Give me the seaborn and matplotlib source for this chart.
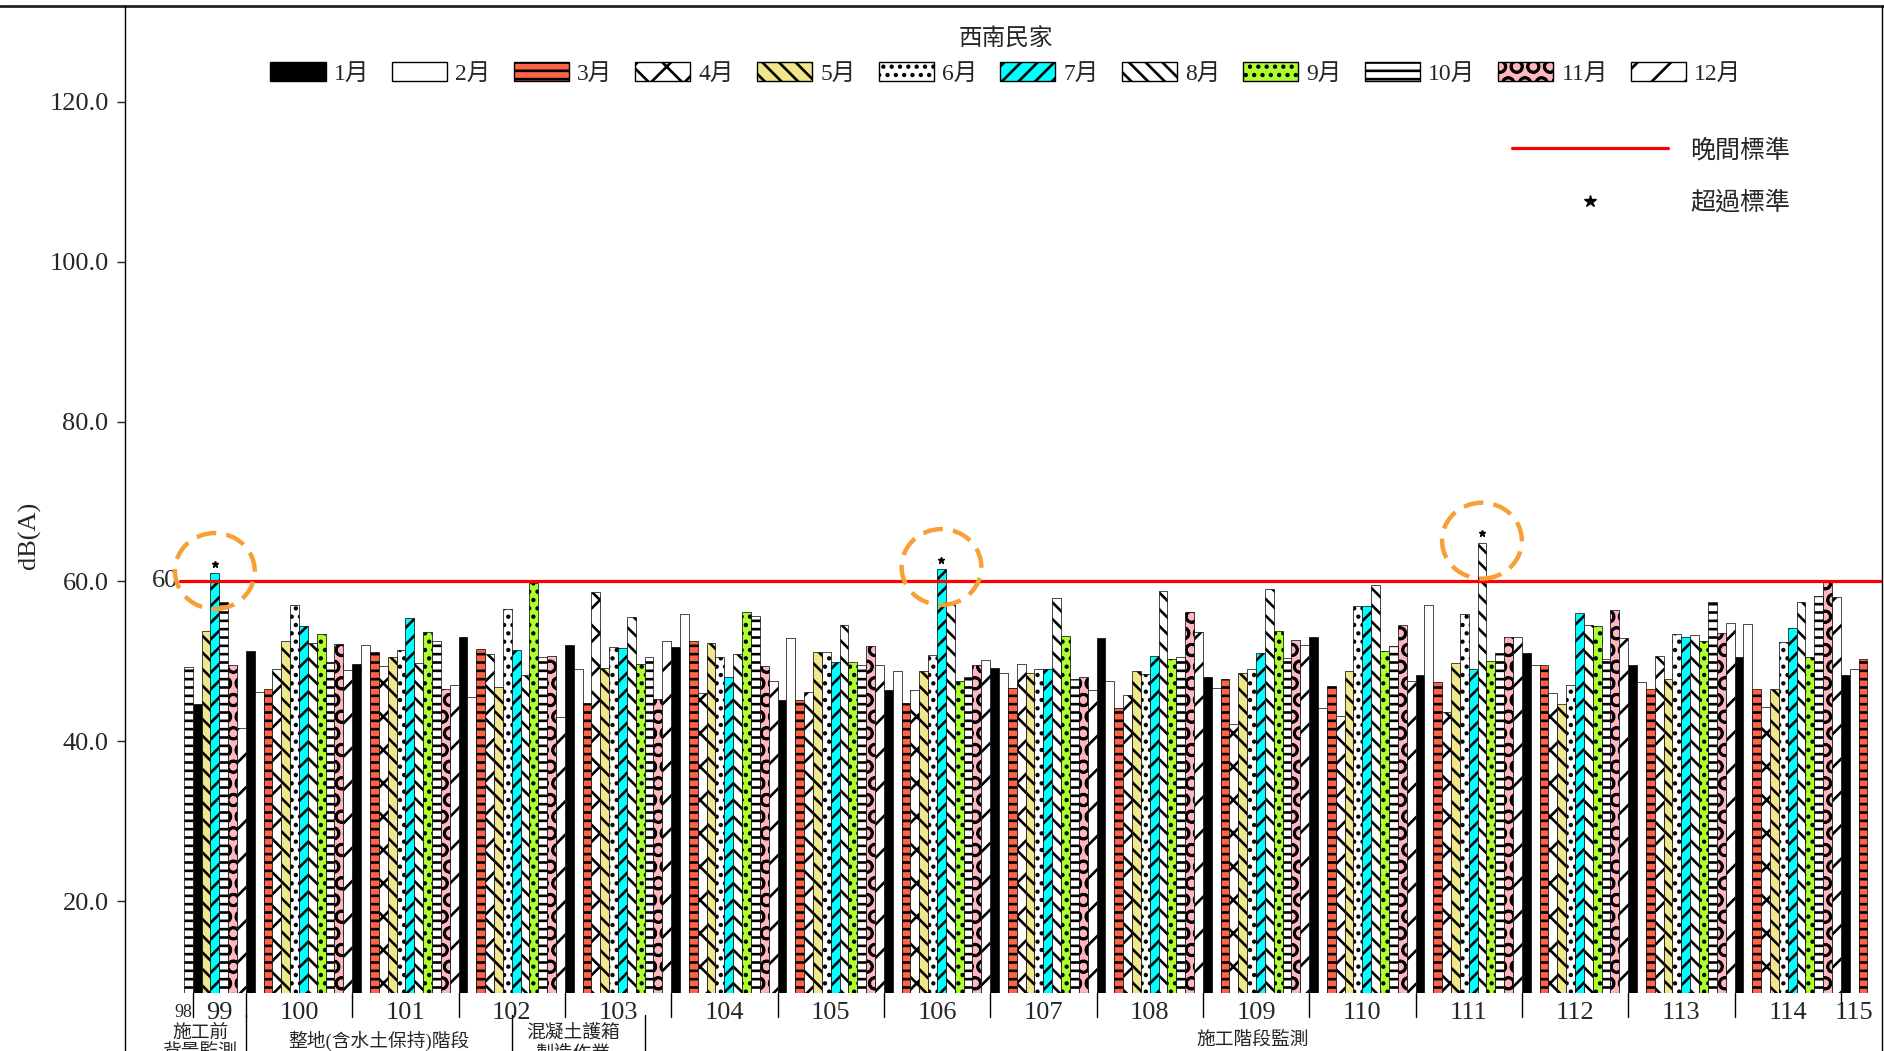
import matplotlib
matplotlib.use("Agg")
import matplotlib.pyplot as plt
import matplotlib.transforms as mtransforms
from matplotlib.patches import Patch, Ellipse
from matplotlib.lines import Line2D
import pandas as pd
import seaborn as sns

# 西南民家 night-time noise, dB(A), by year (ROC) and month
month_labels = [f"{m}月" for m in range(1, 13)]
month_colors = ["#000000", "#FFFFFF", "#FF6347", "#FFFFFF", "#F0E68C", "#FFFFFF",
                "#00FFFF", "#FFFFFF", "#ADFF2F", "#FFFFFF", "#FFB6C1", "#FFFFFF"]
month_hatches = ["", "", "--", "x", "\\\\", "..", "//", "\\\\", "..", "--", "O", "/"]

years = ["98", "99", "100", "101", "102", "103", "104", "105", "106",
         "107", "108", "109", "110", "111", "112", "113", "114", "115"]
all_months = list(range(1, 13))
months_98 = [10]
months_99 = [1, 5, 7, 10, 11, 12]
months_115 = [1, 2, 3]

db_98 = [49.3]
db_99 = [44.6, 53.8, 61.0, 57.4, 49.6, 41.7]
db_100 = [51.3, 46.2, 46.5, 49.1, 52.5, 57.1, 54.4, 52.3, 53.4, 49.9, 52.2, 48.9]
db_101 = [49.7, 52.1, 51.2, 49.4, 50.5, 51.4, 55.4, 49.8, 53.7, 52.6, 46.5, 47.1]
db_102 = [53.1, 45.6, 51.6, 50.9, 46.8, 56.5, 51.4, 48.3, 59.8, 50.6, 50.7, 43.0]
db_103 = [52.1, 49.1, 44.8, 58.7, 49.2, 51.8, 51.7, 55.6, 49.7, 50.6, 45.3, 52.5]
db_104 = [51.8, 55.9, 52.5, 46.0, 52.3, 50.6, 48.1, 50.9, 56.2, 55.7, 49.4, 47.5]
db_105 = [45.1, 52.9, 45.1, 46.2, 51.2, 51.2, 49.9, 54.5, 49.9, 49.5, 51.9, 49.5]
db_106 = [46.4, 48.8, 44.8, 46.4, 48.8, 50.8, 61.5, 57.2, 47.5, 48.0, 49.5, 50.2]
db_107 = [49.2, 48.6, 46.7, 49.7, 48.6, 49.0, 49.0, 57.9, 53.2, 47.8, 48.0, 46.4]
db_108 = [52.9, 47.5, 44.1, 45.8, 48.8, 48.4, 50.7, 58.8, 50.3, 50.6, 56.2, 53.7]
db_109 = [48.0, 46.7, 47.8, 42.1, 48.5, 49.1, 51.0, 59.0, 53.8, 50.4, 52.7, 52.1]
db_110 = [53.1, 44.2, 46.9, 43.2, 48.8, 56.9, 56.9, 59.6, 51.3, 51.9, 54.5, 47.5]
db_111 = [48.3, 57.1, 47.4, 43.7, 49.8, 55.9, 49.0, 64.8, 50.1, 51.0, 53.0, 53.1]
db_112 = [51.0, 49.6, 49.5, 46.0, 44.6, 47.0, 56.0, 54.6, 54.4, 50.3, 56.4, 52.9]
db_113 = [49.5, 47.4, 46.5, 50.7, 47.8, 53.4, 53.1, 53.3, 52.6, 57.4, 53.6, 54.8]
db_114 = [50.6, 54.7, 46.6, 44.3, 46.6, 52.4, 54.2, 57.4, 50.6, 58.2, 59.9, 58.0]
db_115 = [48.3, 49.1, 50.3]

night_limit = 60.0
stage_labels = ["施工前\n背景監測", "整地(含水土保持)階段", "混凝土護箱\n製造作業", "施工階段監測"]
stage_starts = [("100", 1), ("102", 7), ("103", 10)]  # first month of stages 2-4

year_months = [months_98, months_99] + [all_months] * 15 + [months_115]
year_db = [db_98, db_99, db_100, db_101, db_102, db_103, db_104, db_105, db_106,
           db_107, db_108, db_109, db_110, db_111, db_112, db_113, db_114, db_115]

rows = []
for yr, mons, vals in zip(years, year_months, year_db):
    for m, v in zip(mons, vals):
        rows.append({"idx": len(rows), "year": yr, "mnum": m,
                     "month": month_labels[m - 1], "value": v})
df = pd.DataFrame(rows)

sns.set_style("white")
plt.rcParams["font.family"] = ["Liberation Serif", "Noto Sans CJK TC"]
plt.rcParams["hatch.linewidth"] = 1.9

fig = plt.figure(figsize=(18.84, 10.51), dpi=100)
ax = fig.add_axes([125 / 1884, 1 - 993 / 1051, 1756.6 / 1884, 987 / 1051])

sns.barplot(data=df, x="idx", y="value", hue="month", hue_order=month_labels,
            palette=dict(zip(month_labels, month_colors)), dodge=False,
            native_scale=True, width=1.0, saturation=1, errorbar=None,
            edgecolor="black", linewidth=0.5, legend=False, ax=ax)

# hatch each bar according to its month
for p in ax.patches:
    i = int(round(p.get_x() + p.get_width() / 2))
    p.set_hatch(month_hatches[df.mnum[i] - 1])

ax.set_xlim(-7.14, 191.1)
ax.set_ylim(8.5, 132.0)
ax.set_xticks([])
ax.set_xlabel("")
ax.set_ylabel("")
ticks = [20, 40, 60, 80, 100, 120]
ax.set_yticks(ticks)
ax.set_yticklabels([f"{t:.1f}" for t in ticks])
ax.tick_params(axis="y", direction="out", length=5.8, width=1, labelsize=19, pad=6, left=True)
for s in ax.spines.values():
    s.set_visible(False)

# night-time limit line and its label
ax.axhline(night_limit, xmin=0.0313, xmax=1, color="#FF0000", lw=2.3, zorder=4)
ytrans = mtransforms.blended_transform_factory(ax.transAxes, ax.transData)
ax.text(0.0152, night_limit, "60", transform=ytrans, ha="left", va="center", fontsize=19)

# exceedance markers and dashed circles
over = df[df.value > night_limit]
ax.plot(over.idx, over.value + 1.2, ls="", marker="*", ms=4.5, color="black", zorder=6)
for x, v in zip(over.idx, over.value):
    ax.add_patch(Ellipse((x, v + 0.3), 9.0, 9.5, fill=False, edgecolor="#F7A035",
                         lw=3.2, linestyle=(0, (4.5, 2.3)), zorder=7, clip_on=False))

# year labels and separators under the bars
xtrans = mtransforms.blended_transform_factory(ax.transData, ax.transAxes)
for k, yr in enumerate(years):
    sub = df[df.year == yr]
    first, last = sub.idx.min(), sub.idx.max()
    if len(sub) == 1:
        ax.text(first + 0.4, -0.0243, yr, transform=xtrans, ha="right", va="baseline",
                fontsize=13)
    else:
        ax.text((first + last) / 2, -0.0263, yr, transform=xtrans, ha="center",
                va="baseline", fontsize=19)
    if k > 0:
        ax.plot([first - 0.5] * 2, [0, -0.024], transform=xtrans, color="black",
                lw=1.0, clip_on=False)

for yr, m in stage_starts:
    bx = df[(df.year == yr) & (df.mnum == m)].idx.iloc[0] - 0.5
    ax.plot([bx] * 2, [-0.022, -0.09], transform=xtrans, color="black", lw=1.0,
            clip_on=False)

stage_x = [1.4, 21.5, 43.4, 120.1]
stage_y = [-0.041, -0.048, -0.041, -0.048]
for lab, sx, sy in zip(stage_labels, stage_x, stage_y):
    for j, line in enumerate(lab.split("\n")):
        ax.text(sx, sy - 0.0195 * j, line, transform=xtrans, ha="center", va="center",
                fontsize=13.5)

# legends
handles = [Patch(facecolor=c, edgecolor="black", hatch=h, linewidth=1.0, label=m)
           for m, c, h in zip(month_labels, month_colors, month_hatches)]
leg1 = ax.legend(handles=handles, loc="upper center", bbox_to_anchor=(0.5015, 0.9768),
                 ncol=12, frameon=False, title="西南民家", fontsize=17, title_fontsize=17,
                 handlelength=2.33, handleheight=0.85, handletextpad=0.35,
                 columnspacing=0.97, borderaxespad=0, borderpad=0)
leg1._legend_box.sep = 8
h_line = Line2D([], [], color="#FF0000", lw=2.3)
h_star = Line2D([], [], ls="", marker="*", color="black", ms=9)
ax.legend([h_line, h_star], ["晚間標準", "超過標準"], loc="upper left",
          bbox_to_anchor=(0.7896, 0.866), frameon=False, fontsize=18,
          handlelength=6.24, handletextpad=0.88, labelspacing=1.15,
          borderaxespad=0, borderpad=0)
ax.add_artist(leg1)

# frame lines and y label
fig.add_artist(Line2D([0, 1], [1 - 6 / 1051] * 2, color="#222222", lw=2.0))
fig.add_artist(Line2D([125 / 1884] * 2, [0, 1 - 6 / 1051], color="black", lw=1.0))
fig.add_artist(Line2D([1882 / 1884] * 2, [0, 1 - 6 / 1051], color="black", lw=1.0))
fig.text(29 / 1884, 1 - 535 / 1051, "dB(A)", rotation=90, ha="center", va="center",
         fontsize=19)

fig.savefig("out.png", dpi=100)
